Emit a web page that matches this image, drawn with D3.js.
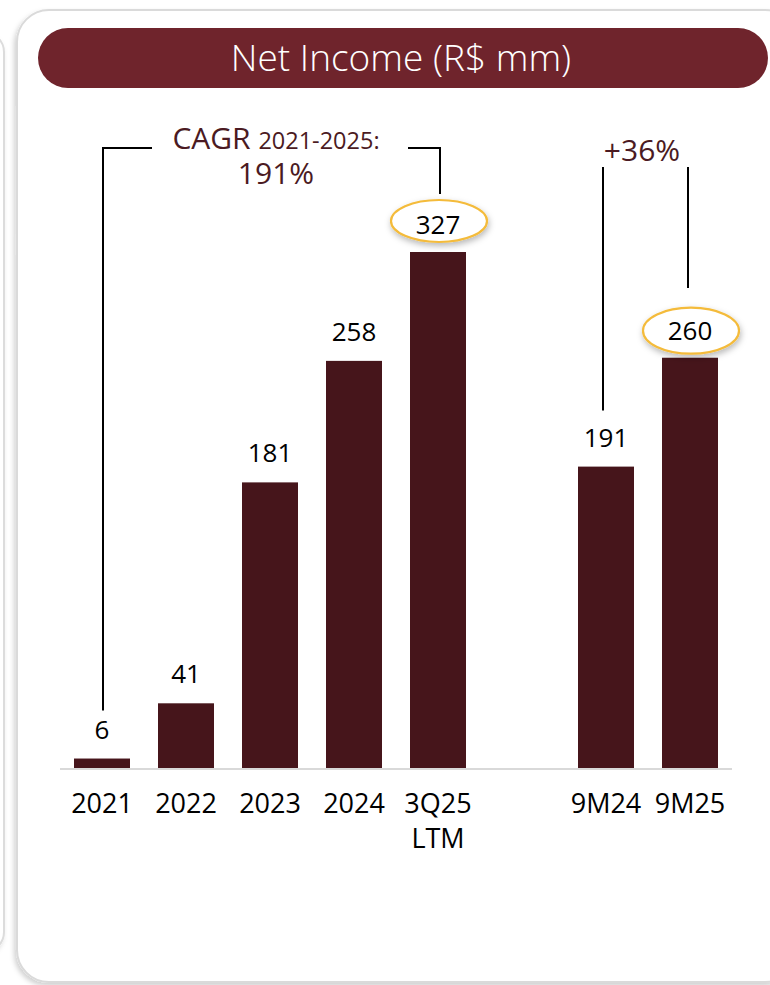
<!DOCTYPE html>
<html>
<head>
<meta charset="utf-8">
<script src="https://cdn.jsdelivr.net/npm/d3@7/dist/d3.min.js"></script>
<style>
  html, body { margin: 0; padding: 0; background: #ffffff; }
  svg { display: block; }
</style>
</head>
<body>
<svg id="chart" width="770" height="985"></svg>
<script>
// Net income, R$ mm
const categories = ["2021", "2022", "2023", "2024", "3Q25 LTM", "", "9M24", "9M25"];
const annualValues = [6, 41, 181, 258, 327];
const ninthMonthValues = [191, 260];
const tickLabels = {
  "2021": ["2021"], "2022": ["2022"], "2023": ["2023"], "2024": ["2024"],
  "3Q25 LTM": ["3Q25", "LTM"], "9M24": ["9M24"], "9M25": ["9M25"]
};
const highlighted = ["3Q25 LTM", "9M25"];
const cagrLabel = { big: "CAGR", small: "2021-2025:", value: "191%" };
const growthLabel = "+36%";

const data = [
  ...annualValues.map((v, i) => ({ cat: categories[i], value: v })),
  ...ninthMonthValues.map((v, i) => ({ cat: categories[6 + i], value: v }))
];

const BAR = "#46151b";
const HEADER = "#6f242c";
const ACCENT = "#4b1a22";
const FONT = "'Open Sans', 'Noto Sans', sans-serif";

const svg = d3.select("#chart");
const defs = svg.append("defs");

const cardShadow = defs.append("filter").attr("id", "cardShadow")
  .attr("x", "-10%").attr("y", "-10%").attr("width", "120%").attr("height", "120%");
cardShadow.append("feDropShadow").attr("dx", -2).attr("dy", 3).attr("stdDeviation", 2.5)
  .attr("flood-color", "#000").attr("flood-opacity", 0.18);

const ringShadow = defs.append("filter").attr("id", "ringShadow")
  .attr("x", "-30%").attr("y", "-40%").attr("width", "160%").attr("height", "190%");
ringShadow.append("feDropShadow").attr("dx", 1).attr("dy", 3).attr("stdDeviation", 3)
  .attr("flood-color", "#000").attr("flood-opacity", 0.28);

// neighbouring card peeking in on the left edge
svg.append("rect")
  .attr("x", -40).attr("y", 32).attr("width", 44).attr("height", 920)
  .attr("rx", 20).attr("fill", "#fff").attr("stroke", "#dcdcdc").attr("stroke-width", 2)
  .attr("filter", "url(#cardShadow)");

// card
svg.append("rect")
  .attr("x", 17).attr("y", 10).attr("width", 780).attr("height", 972)
  .attr("rx", 32).attr("fill", "#fff").attr("stroke", "#dadada").attr("stroke-width", 2)
  .attr("filter", "url(#cardShadow)");

// header pill
svg.append("rect")
  .attr("x", 38).attr("y", 28).attr("width", 730).attr("height", 60)
  .attr("rx", 30).attr("fill", HEADER);
svg.append("text")
  .attr("x", 401).attr("y", 71).attr("text-anchor", "middle")
  .attr("fill", "#fff").attr("font-family", FONT).attr("font-weight", 300)
  .attr("font-size", 37).text("Net Income (R$ mm)");

// scales
const x = d3.scaleBand().domain(categories).range([60, 732])
  .paddingInner(1 / 3).paddingOuter(1 / 6);
const y = d3.scaleLinear().domain([0, 327]).range([768, 252]);
const cx = c => x(c) + x.bandwidth() / 2;

// bars
svg.append("g").selectAll("rect").data(data).join("rect")
  .attr("x", d => x(d.cat)).attr("width", x.bandwidth())
  .attr("y", d => y(d.value)).attr("height", d => y(0) - y(d.value))
  .attr("fill", BAR);

// baseline
svg.append("line")
  .attr("x1", 60).attr("x2", 732).attr("y1", y(0) + 1).attr("y2", y(0) + 1)
  .attr("stroke", "#d9d9d9").attr("stroke-width", 2);

// category axis
const axis = svg.append("g").attr("transform", `translate(0,${y(0)})`)
  .call(d3.axisBottom(x).tickSize(0).tickFormat(""));
axis.select(".domain").remove();
axis.selectAll(".tick").filter(d => d === "").remove();
axis.selectAll(".tick text").each(function (d) {
  const t = d3.select(this)
    .attr("y", 0).attr("dy", null)
    .attr("font-family", FONT).attr("font-size", 27).attr("fill", "#000");
  tickLabels[d].forEach((line, i) => {
    t.append("tspan").attr("x", 0).attr("y", 45 + i * 35).text(line);
  });
});

// highlight rings behind the value labels
const ring = { "3Q25 LTM": { dy: -31, rx: 48, ry: 21 }, "9M25": { dy: -27, rx: 48, ry: 23 } };
svg.append("g").selectAll("ellipse")
  .data(data.filter(d => highlighted.includes(d.cat))).join("ellipse")
  .attr("cx", d => cx(d.cat) + 1)
  .attr("cy", d => y(d.value) + ring[d.cat].dy)
  .attr("rx", d => ring[d.cat].rx).attr("ry", d => ring[d.cat].ry)
  .attr("fill", "#fff").attr("stroke", "#f4bb3a").attr("stroke-width", 2.2)
  .attr("filter", "url(#ringShadow)");

// value labels
svg.append("g").selectAll("text").data(data).join("text")
  .attr("x", d => cx(d.cat))
  .attr("y", d => highlighted.includes(d.cat) ? y(d.value) - 18 : y(d.value) - 20)
  .attr("text-anchor", "middle")
  .attr("font-family", FONT).attr("font-size", 26).attr("fill", "#000")
  .text(d => d.value);

// CAGR bracket
const x0 = cx("2021") + 1, x1 = cx("3Q25 LTM") + 2, by = 148;
const bracket = svg.append("g").attr("fill", "none").attr("stroke", "#000").attr("stroke-width", 2);
bracket.append("path").attr("d", `M${x0},${y(6) - 48} V${by} H152`);
bracket.append("path").attr("d", `M408,${by} H${x1} V194`);

const cagr = svg.append("text")
  .attr("x", 276).attr("y", 149).attr("text-anchor", "middle")
  .attr("font-family", FONT).attr("fill", ACCENT);
cagr.append("tspan").attr("font-size", 30).text(cagrLabel.big + " ");
cagr.append("tspan").attr("font-size", 23.5).text(cagrLabel.small);
svg.append("text")
  .attr("x", 276).attr("y", 184).attr("text-anchor", "middle")
  .attr("font-family", FONT).attr("font-size", 30).attr("fill", ACCENT)
  .text(cagrLabel.value);

// 9M growth lines
const g1 = cx("9M24") - 3, g2 = cx("9M25") - 2;
const growth = svg.append("g").attr("stroke", "#000").attr("stroke-width", 2);
growth.append("line").attr("x1", g1).attr("x2", g1).attr("y1", 167).attr("y2", y(191) - 56);
growth.append("line").attr("x1", g2).attr("x2", g2).attr("y1", 167).attr("y2", 288);
svg.append("text")
  .attr("x", 642).attr("y", 161).attr("text-anchor", "middle")
  .attr("font-family", FONT).attr("font-size", 30).attr("fill", ACCENT)
  .text(growthLabel);
</script>
</body>
</html>
